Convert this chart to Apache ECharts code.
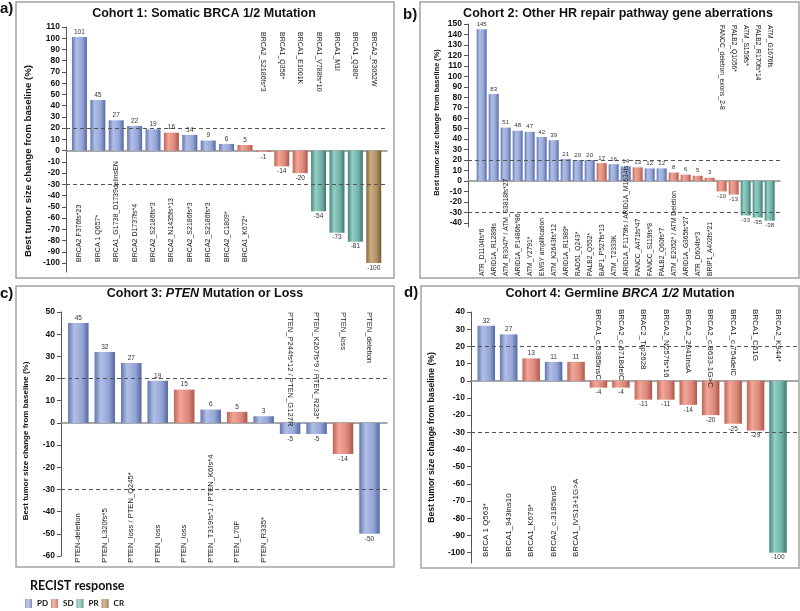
<!DOCTYPE html>
<html><head><meta charset="utf-8">
<script src="https://cdn.jsdelivr.net/npm/echarts@6.0.0/dist/echarts.min.js"></script>
<style>html,body{margin:0;padding:0;background:#fff}#c{width:800px;height:611px}</style>
</head><body><div id="c"></div>
<script>
// ---------- DATA ----------
const aNames = ['BRCA2 F376fs*23','BRCA 1 Q657*','BRCA1_G1738_D1739delinsEN','BRCA2 D1737fs*4','BRCA2_S2186fs*3','BRCA2_N1435fs*13','BRCA2_S2186fs*3','BRCA2_S2186fs*3','BRCA2_C1809*','BRCA1_K672*','BRCA2_S2186fs*3','BRCA1_Q356*','BRCA1_E1001K','BRCA1_V788fs*10','BRCA1_M1I','BRCA1_Q380*','BRCA2_R3052W'];
const aValues = [101,45,27,22,19,16,14,9,6,5,-1,-14,-20,-54,-73,-81,-100];
const aResp = ['PD','PD','PD','PD','PD','SD','PD','PD','PD','SD','SD','SD','SD','PR','PR','PR','CR'];

const bNames = ['ATR_D1104fs*6','ARID1A_R1289fs','ATM_R3047* / ATM_S3818fs*27','ARID1A_P1486fs*86','ATM_Y2791*','EMSY amplification','ATM_K2643fs*12','ARID1A_R1989*','RAD51_Q243*','PALB2_Q552*','BAP1_P527fs*13','ATM_T2333K','ARID1A_F1179fs / ARID1A_M1634fs','FANCC_A471fs*47','FANCC_S119fs*8','PALB2_Q60fs*7','ATM_E2052* / ATM Deletion','ARID1A_G365fs*27','ATR_D604fs*3','BRIP1_A402fs*21','FANCC_deletion_exons_2-8','PALB2_Q1056*','ATM_S159fs*','PALB2_R170fs*14','ATM_G1676fs'];
const bValues = [145,83,51,48,47,42,39,21,20,20,17,16,14,13,12,12,8,6,5,3,-10,-13,-33,-35,-38];
const bResp = ['PD','PD','PD','PD','PD','PD','PD','PD','PD','PD','SD','PD','PD','SD','PD','PD','SD','SD','SD','SD','SD','SD','PR','PR','PR'];

const cNames = ['PTEN-deletion','PTEN_L320fs*5','PTEN_loss / PTEN_Q245*','PTEN_loss','PTEN_loss','PTEN_T319fs*1 / PTEN_K6fs*4','PTEN_L70F','PTEN_R335*','PTEN_P244fs*12 / PTEN_G127R','PTEN_K267fs*9 / PTEN_R233*','PTEN_loss','PTEN_deletion'];
const cValues = [45,32,27,19,15,6,5,3,-5,-5,-14,-50];
const cResp = ['PD','PD','PD','PD','SD','PD','SD','PD','PD','PD','SD','PD'];

const dNames = ['BRCA 1 Q563*','BRCA1_943ins10','BRCA1_K679*','BRCA2_c.3185insG','BRCA1_IVS13+1G>A','BRCA1_c.5385insC','BRCA2_c.6718delC','BRAC2_Trp2628','BRCA2_N257fs*16','BRCA2_2041insA','BRCA2_c.8633-1G>C','BRCA1_c.754delC','BRCA1_C61G','BRCA2_K944*'];
const dValues = [32,27,13,11,11,-4,-4,-11,-11,-14,-20,-25,-29,-100];
const dResp = ['PD','PD','SD','PD','SD','SD','SD','SD','SD','SD','SD','SD','SD','PR'];

const aTicks = [-100,-90,-80,-70,-60,-50,-40,-30,-20,-10,0,10,20,30,40,50,60,70,80,90,100,110];
const bTicks = [-40,-30,-20,-10,0,10,20,30,40,50,60,70,80,90,100,110,120,130,140,150];
const cTicks = [-60,-50,-40,-30,-20,-10,0,10,20,30,40,50];
const dTicks = [-100,-90,-80,-70,-60,-50,-40,-30,-20,-10,0,10,20,30,40];

const thresholds = [20, -30];
const respTypes = ['PD','SD','PR','CR'];
const yName = 'Best tumor size change from baseline (%)';

// ---------- STYLE ----------
const FONT = '"Liberation Sans", Arial, sans-serif';
function grad(c){
  return {type:'linear',x:0,y:0,x2:1,y2:0,colorStops:[
    {offset:0,color:c[0]},{offset:0.3,color:c[1]},{offset:0.7,color:c[2]},{offset:1,color:c[3]}]};
}
const COLORS = {
  PD: grad(['#6477ae','#b1bfe7','#93a5d6','#55679e']),
  SD: grad(['#bd6557','#f2a697','#dc887a','#ad5749']),
  PR: grad(['#4a857d','#93cfc4','#70b1a6','#3f7870']),
  CR: grad(['#86693f','#ccab80','#b08f63','#755a35'])
};

const panels = [
  {names:aNames, values:aValues, resp:aResp, ticks:aTicks,
   grid:{left:66,top:27,width:321,height:245}, xMin:-0.73, xMax:16.72, yMin:-108, yMax:110,
   barWidth:15, nameFont:7, valFont:6.5, botBase:-99, topBase:105.5,
   axName:{size:9.7, gap:33, pad:[0,23,0,0]}},
  {names:bNames, values:bValues, resp:bResp, ticks:bTicks,
   grid:{left:468,top:24,width:312,height:203}, xMin:-1.14, xMax:24.86, yMin:-44, yMax:150,
   barWidth:10, nameFont:6.7, valFont:6, botBase:-90.8, topBase:149,
   axName:{size:7.4, gap:28, pad:[0,0,0,6]}},
  {names:cNames, values:cValues, resp:cResp, ticks:cTicks,
   grid:{left:61,top:312,width:326,height:244}, xMin:-0.654, xMax:11.66, yMin:-60, yMax:50,
   barWidth:20.5, nameFont:7.6, valFont:6.5, botBase:-63, topBase:50,
   axName:{size:8, gap:31, pad:[0,14,0,0]}},
  {names:dNames, values:dValues, resp:dResp, ticks:dTicks,
   grid:{left:471,top:312,width:327,height:251}, xMin:-0.68, xMax:13.89, yMin:-106, yMax:40,
   barWidth:17.5, nameFont:8, valFont:6.5, botBase:-102.5, topBase:41.8,
   axName:{size:8.6, gap:35, pad:[0,0,0,0]}}
];

const series = [];
panels.forEach((p,k)=>{
  series.push({
    type:'bar', xAxisIndex:k, yAxisIndex:k, barWidth:p.barWidth,
    data:p.values.map((v,i)=>({value:[i,v], itemStyle:{color:COLORS[p.resp[i]]}})),
    markLine:{silent:true, symbol:'none', label:{show:false},
      lineStyle:{type:[4,3], color:'#555', width:1},
      data:thresholds.map(t=>({yAxis:t}))}
  });
  series.push({
    type:'custom', xAxisIndex:k, yAxisIndex:k, silent:true, z:5,
    data:p.values.map((v,i)=>[i,v]),
    renderItem:function(params, api){
      const i = api.value(0), v = api.value(1);
      const pt = api.coord([i, v]);
      const valEl = {type:'text', x:pt[0], y: v >= 0 ? pt[1]-5 : pt[1]+5,
        style:{text:String(v), fontSize:p.valFont, fontFamily:FONT, fill:'#333', align:'center', verticalAlign:'middle'}};
      const baseY = api.coord([i, v >= 0 ? p.botBase : p.topBase])[1];
      const nameEl = {type:'text', x:pt[0], y:baseY, rotation: v >= 0 ? Math.PI/2 : -Math.PI/2,
        style:{text:p.names[params.dataIndex], fontSize:p.nameFont, fontFamily:FONT, fill:'#1a1a1a', align:'left', verticalAlign:'middle'}};
      return {type:'group', children:[valEl, nameEl]};
    }
  });
});
respTypes.forEach(r=>{
  series.push({type:'scatter', name:r, xAxisIndex:0, yAxisIndex:0, data:[], itemStyle:{color:COLORS[r]}});
});

const titleStyle = {fontSize:12.5, fontWeight:'bold', fontFamily:FONT, color:'#111'};
const rich = {
  b:{fontSize:12.5, fontWeight:'bold', fontFamily:FONT, color:'#111'},
  i:{fontSize:12.5, fontWeight:'bold', fontStyle:'italic', fontFamily:FONT, color:'#111'}
};
const letter = {fontSize:15, fontWeight:'bold', fontFamily:FONT, color:'#111'};

const option = {
  animation:false,
  backgroundColor:'#fff',
  title:[
    {text:'a)', left:0, top:9, padding:0, textVerticalAlign:'middle', textStyle:letter},
    {text:'b)', left:403, top:15, padding:0, textVerticalAlign:'middle', textStyle:letter},
    {text:'c)', left:0, top:294, padding:0, textVerticalAlign:'middle', textStyle:letter},
    {text:'d)', left:404, top:293, padding:0, textVerticalAlign:'middle', textStyle:letter},
    {text:'Cohort 1: Somatic BRCA 1/2 Mutation', left:204, top:14, padding:0, textAlign:'center', textVerticalAlign:'middle', textStyle:titleStyle},
    {text:'Cohort 2: Other HR repair pathway gene aberrations', left:618, top:14, padding:0, textAlign:'center', textVerticalAlign:'middle', textStyle:titleStyle},
    {text:'{b|Cohort 3: }{i|PTEN}{b| Mutation or Loss}', left:205, top:294, padding:0, textAlign:'center', textVerticalAlign:'middle', textStyle:{rich:rich}},
    {text:'{b|Cohort 4: Germline }{i|BRCA 1/2}{b| Mutation}', left:620, top:294, padding:0, textAlign:'center', textVerticalAlign:'middle', textStyle:{rich:rich}},
    {text:'RECIST response', left:30, top:586, padding:0, textVerticalAlign:'middle', textStyle:{fontSize:12.5, fontWeight:'bold', fontFamily:'Lato, sans-serif', color:'#111'}}
  ],
  legend:{data:respTypes, left:25, top:599, padding:0, itemWidth:7, itemHeight:9, itemGap:3, icon:'rect', selectedMode:false,
    textStyle:{fontSize:8, fontWeight:'bold', fontFamily:'Lato, sans-serif', color:'#111'}},
  grid:panels.map(p=>Object.assign({containLabel:false}, p.grid)),
  xAxis:panels.map((p,k)=>({type:'value', gridIndex:k, min:p.xMin, max:p.xMax,
    axisLine:{show:true, onZero:true, lineStyle:{color:'#8c8c8c', width:1.5}},
    axisTick:{show:false}, axisLabel:{show:false}, splitLine:{show:false}})),
  yAxis:panels.map((p,k)=>({type:'value', gridIndex:k, min:p.yMin, max:p.yMax,
    axisLine:{show:true, onZero:false, lineStyle:{color:'#555', width:1}},
    axisTick:{show:true, length:4, customValues:p.ticks, lineStyle:{color:'#555'}},
    axisLabel:{customValues:p.ticks, fontSize:8.5, fontWeight:'bold', color:'#111', margin:6, fontFamily:FONT},
    splitLine:{show:false},
    name:yName, nameLocation:'middle', nameRotate:90, nameGap:p.axName.gap,
    nameTextStyle:{fontSize:p.axName.size, fontWeight:'bold', color:'#111', fontFamily:FONT, padding:p.axName.pad}})),
  graphic:[
    {type:'rect', silent:true, shape:{x:16,y:2,width:378,height:276}, style:{fill:'none', stroke:'#a3a3a3', lineWidth:1.5}},
    {type:'rect', silent:true, shape:{x:420,y:2,width:379,height:276}, style:{fill:'none', stroke:'#a3a3a3', lineWidth:1.5}},
    {type:'rect', silent:true, shape:{x:16,y:286,width:378,height:281}, style:{fill:'none', stroke:'#a3a3a3', lineWidth:1.5}},
    {type:'rect', silent:true, shape:{x:421,y:286,width:378,height:282}, style:{fill:'none', stroke:'#a3a3a3', lineWidth:1.5}}
  ],
  series:series
};
const chart = echarts.init(document.getElementById('c'), null, {renderer:'canvas'});
chart.setOption(option);
</script>
</body></html>
